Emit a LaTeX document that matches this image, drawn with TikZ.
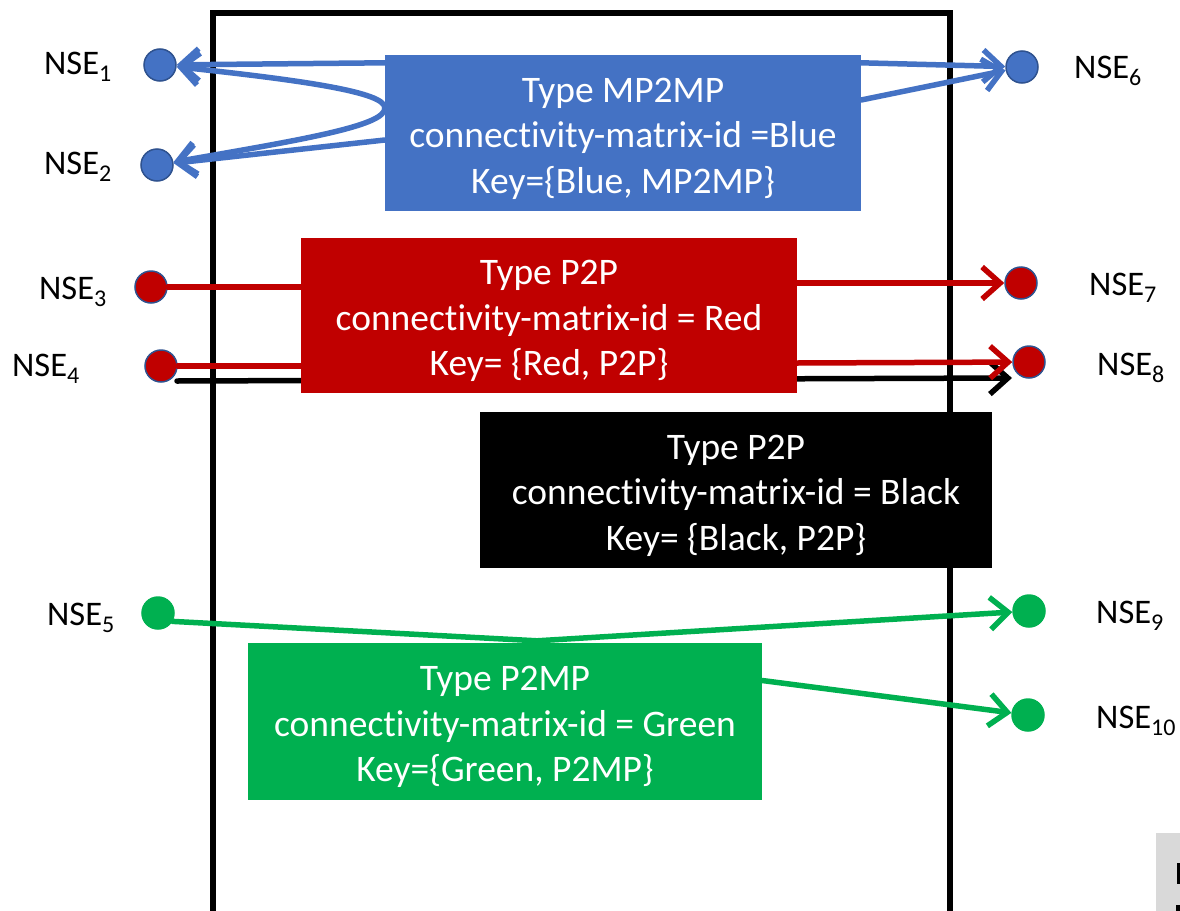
\documentclass[tikz,border=0pt]{standalone}
\usepackage{fontspec}
\setmainfont{Carlito}[Ligatures={NoCommon}]
\usetikzlibrary{arrows.meta,calc}
\definecolor{cblue}{HTML}{4472C4}
\definecolor{cbluedk}{HTML}{2F528F}
\definecolor{cred}{HTML}{C00000}
\definecolor{cgreen}{HTML}{00B050}
\definecolor{cgrey}{HTML}{D9D9D9}
\newcommand{\nse}[1]{NSE\raisebox{-7pt}{\fontsize{24}{24}\selectfont #1}}
\newcommand{\tstrut}{\rule{0pt}{36pt}}
\tikzset{
  box/.style={rectangle, draw=none, text=white, align=center, inner sep=0pt,
    font=\fontsize{37.5}{45.5}\selectfont},
  dot/.style={circle, minimum size=32pt, inner sep=0pt, line width=1.5pt},
  lbl/.style={anchor=base west, inner sep=0pt, font=\fontsize{34.5}{40}\selectfont},
  conn/.style={line width=5.5pt, line cap=round},
  tip/.style={-{Straight Barb[length=18pt,width=32pt,line width=5.5pt]}},
}
\begin{document}
\begin{tikzpicture}[x=1pt,y=-1pt]
\useasboundingbox (0,0) rectangle (1180,910);
% frame
\draw[line width=6.5pt] (213,925) -- (213,13) -- (950,13) -- (950,925);
% grey partial box
\fill[cgrey] (1156,833) rectangle (1181,911);
\fill[black] (1177,863) rectangle (1181,884);
\fill[black] (1176,905) rectangle (1181,911);

% dots
\node[dot, fill=cblue, draw=cbluedk] (n1) at (160,65) {};
\node[dot, fill=cblue, draw=cbluedk] (n2) at (157,165) {};
\node[dot, fill=cblue, draw=cbluedk] (n6) at (1022,67) {};
\node[dot, fill=cred, draw=cbluedk] (n3) at (151,287) {};
\node[dot, fill=cred, draw=cbluedk] (n4) at (161,366) {};
\node[dot, fill=cred, draw=cbluedk] (n7) at (1021,283) {};
\node[dot, fill=cred, draw=cbluedk] (n8) at (1029,362) {};
\node[dot, fill=cgreen, draw=cgreen] (n5) at (158,613) {};
\node[dot, fill=cgreen, draw=cgreen] (n9) at (1029,611) {};
\node[dot, fill=cgreen, draw=cgreen] (n10) at (1028,715) {};

% labels
\node[lbl] (l1) at (44,74) {\nse{1}};
\node[lbl] (l2) at (44,174) {\nse{2}};
\node[lbl] (l3) at (39,299) {\nse{3}};
\node[lbl] (l4) at (12,376) {\nse{4}};
\node[lbl] (l5) at (47,625) {\nse{5}};
\node[lbl] (l6) at (1074,78) {\nse{6}};
\node[lbl] (l7) at (1089,295) {\nse{7}};
\node[lbl] (l8) at (1097,375) {\nse{8}};
\node[lbl] (l9) at (1096,623) {\nse{9}};
\node[lbl] (l10) at (1096,728) {\nse{10}};

% black arrow (behind red box)
\coordinate (bk) at (177,381);
\coordinate (bkend) at (1012,378);
\draw[conn, tip, black] (bk) -- (bkend);

% boxes
\node[box, fill=cblue, minimum width=476pt, minimum height=156pt] (blue) at (623,133)
  {\tstrut Type MP2MP\\connectivity-matrix-id =Blue\\Key=\{Blue, MP2MP\}};
\node[box, fill=cred, minimum width=496pt, minimum height=155pt] (red) at (549,315.5)
  {\tstrut Type P2P\\connectivity-matrix-id = Red\\Key= \{Red, P2P\}};
\node[box, fill=black, minimum width=512pt, minimum height=156pt] (blk) at (736,490)
  {\tstrut Type P2P\\connectivity-matrix-id = Black\\Key= \{Black, P2P\}};
\node[box, fill=cgreen, minimum width=514pt, minimum height=157pt] (green) at (505,721.5)
  {\tstrut Type P2MP\\connectivity-matrix-id = Green\\Key=\{Green, P2MP\}};

% blue connectors
\coordinate (bv) at ([yshift=25pt]blue.west);
\draw[conn, tip, cblue] ([yshift=-8pt]blue.north west) -- (n1);
\draw[conn, tip, cblue] (bv) .. controls (386,92) and (300,80) .. (n1);
\draw[conn, tip, cblue] (bv) .. controls (386,126) and (300,140) .. (n2);
\draw[conn, tip, cblue] ([yshift=-7pt]blue.west) -- (n2);
\draw[conn, tip, cblue] ([yshift=-8pt]blue.north east) -- (n6);
\draw[conn, tip, cblue] ([yshift=33pt]blue.east) -- (n6);

% red connectors
\draw[conn, cred] (n3) -- ([yshift=28.5pt]red.west);
\draw[conn, cred] (n4) -- ([yshift=-50.5pt]red.west);
\draw[conn, tip, cred] ([yshift=32.5pt]red.east) -- (n7);
\draw[conn, tip, cred] ([yshift=-47.5pt]red.east) -- (n8);

% green connectors
\coordinate (gj) at ([xshift=32pt,yshift=2pt]green.north);
\draw[conn, tip, cgreen, line join=round] (n5.-30) -- (gj) -- (n9);
\draw[conn, tip, cgreen] ([yshift=41pt]green.east) -- (n10);
\end{tikzpicture}
\end{document}
